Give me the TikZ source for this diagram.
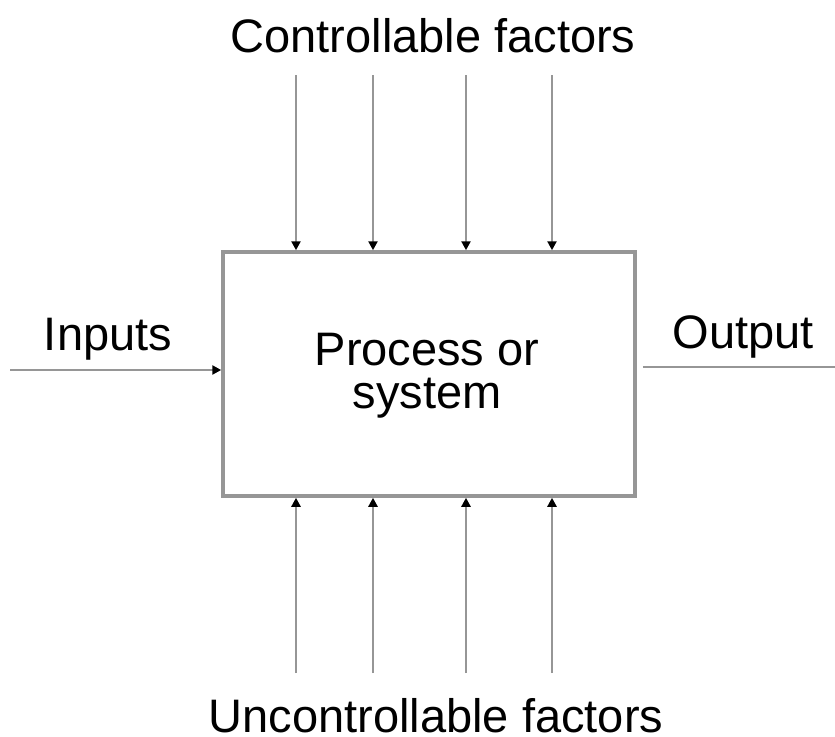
\documentclass[tikz,border=0pt]{standalone}
\usepackage{fontspec}
\setmainfont{Liberation Sans}
\usetikzlibrary{arrows.meta}
\definecolor{linegray}{RGB}{150,150,150}
\begin{document}
\begin{tikzpicture}[x=1pt,y=-1pt,
  lbl/.style={anchor=base,inner sep=0pt,font=\fontsize{47}{45}\selectfont},
  boxline/.style={draw=linegray,line width=3.5pt},
  feed/.style={draw=linegray,line width=2.6pt,-{Triangle[length=9pt,width=9pt,color=black]}},
  outline/.style={draw=linegray,line width=2.8pt}]
\useasboundingbox (0,0) rectangle (835,736);
\node[boxline,minimum width=412pt,minimum height=244pt,inner sep=0pt] (box) at (429,374) {};
\node[lbl] (ctl) at (433,52) {Controllable factors};
\node[lbl] (unc) at (436,732) {Uncontrollable factors};
\node[lbl] (inp) at (108,350) {Inputs};
\node[lbl] (out) at (743,348) {Output};
\node[lbl,align=center] (proc) at (427,408) {Process or\\[-2pt]system};
\foreach \i/\x in {1/296,2/373,3/466,4/552}{
  \coordinate (t\i) at (\x,75);
  \coordinate (b\i) at (\x,673);
  \draw[feed] (t\i) -- (t\i |- box.north);
  \draw[feed] (b\i) -- (b\i |- box.south);
}
\coordinate (inS) at (10,370);
\draw[feed] (inS) -- (inS -| box.west);
\coordinate (outE) at (835,367);
\draw[outline] (box.east |- outE) ++(6,0) -- (outE);
\end{tikzpicture}
\end{document}
